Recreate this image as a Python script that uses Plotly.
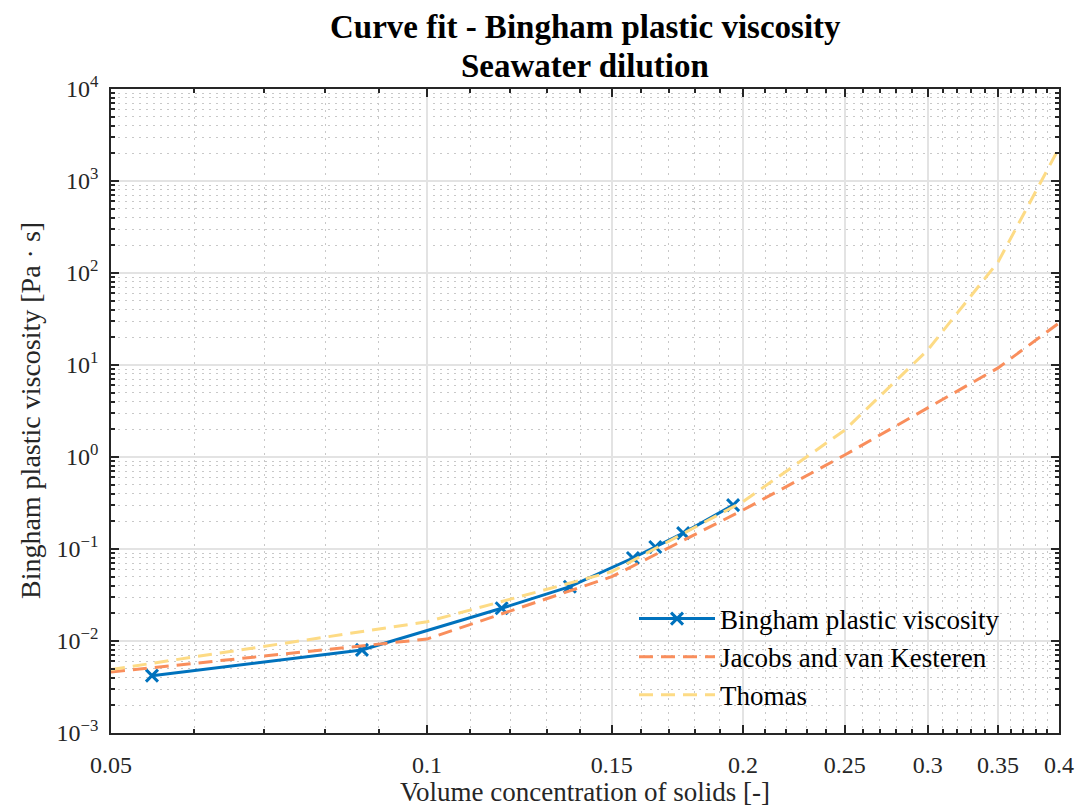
import plotly.graph_objects as go

# Measured Bingham plastic viscosity
conc_meas = [0.0547, 0.0867, 0.1178, 0.1368, 0.1571, 0.165, 0.1754, 0.1957]
visc_meas = [0.0042, 0.0080, 0.0227, 0.0389, 0.0798, 0.105, 0.149, 0.30]

# Model curves evaluated on a coarse concentration grid
conc_model = [0.05, 0.10, 0.15, 0.20, 0.25, 0.30, 0.35, 0.40]
visc_jacobs = [0.0046, 0.0105, 0.050, 0.265, 1.05, 3.4, 9.3, 28.6]
visc_thomas = [0.0049, 0.0162, 0.0567, 0.327, 1.96, 14.6, 132, 2285]

x_ticks = [0.05, 0.1, 0.15, 0.2, 0.25, 0.3, 0.35, 0.4]
x_ticklabels = ["0.05", "0.1", "0.15", "0.2", "0.25", "0.3", "0.35", "0.4"]
y_exponents = [-3, -2, -1, 0, 1, 2, 3, 4]

title_lines = ["Curve fit - Bingham plastic viscosity", "Seawater dilution"]
x_label = "Volume concentration of solids [-]"
y_label = "Bingham plastic viscosity [Pa \u00b7 s]"

BLUE = "#0072BD"
ORANGE = "#F98E5C"
YELLOW = "#FDDB85"
INK = "#262626"
FONT = "Liberation Serif"

x_minor = [round(v / 100, 2) for v in range(6, 40) if round(v / 100, 2) not in x_ticks]
y_minor = [m * 10.0 ** e for e in y_exponents[:-1] for m in range(2, 10)]

fig = go.Figure()
fig.add_trace(go.Scatter(
    x=conc_meas, y=visc_meas, mode="lines+markers",
    name="Bingham plastic viscosity",
    line=dict(color=BLUE, width=3),
    marker=dict(symbol="x-thin-open", size=12, color=BLUE,
                line=dict(color=BLUE, width=3)),
))
fig.add_trace(go.Scatter(
    x=conc_model, y=visc_jacobs, mode="lines",
    name="Jacobs and van Kesteren",
    line=dict(color=ORANGE, width=3, dash="14px,8px"),
))
fig.add_trace(go.Scatter(
    x=conc_model, y=visc_thomas, mode="lines",
    name="Thomas",
    line=dict(color=YELLOW, width=3, dash="14px,8px"),
))

axis_common = dict(
    showline=True, linecolor=INK, linewidth=1.5, mirror="ticks",
    ticks="inside", ticklen=8, tickcolor=INK, tickwidth=1.5,
    showgrid=True, gridcolor="#e3e3e3", gridwidth=1.5,
    zeroline=False, automargin=False,
    tickfont=dict(family=FONT, size=24, color=INK),
)
minor_common = dict(tickmode="array", ticks="inside", ticklen=4, tickcolor=INK,
                    showgrid=True, gridcolor="#c8c8c8", griddash="2px,5px",
                    gridwidth=1)

fig.update_xaxes(
    type="log", range=[-1.30103, -0.39794],
    tickmode="array", tickvals=x_ticks, ticktext=x_ticklabels,
    ticklabelstandoff=9,
    minor=dict(tickvals=x_minor, **minor_common),
    **axis_common,
)
fig.update_yaxes(
    type="log", range=[-3, 4],
    tickmode="array", tickvals=[10.0 ** e for e in y_exponents],
    ticktext=["10<sup>%s</sup>" % str(e).replace("-", "\u2212") for e in y_exponents],
    ticklabelstandoff=6,
    minor=dict(tickvals=y_minor, **minor_common),
    **axis_common,
)

# two-line bold title centred over the plotting area
for text, ypos in zip(title_lines, [1.0963, 1.0357]):
    fig.add_annotation(
        text="<b>%s</b>" % text, xref="paper", yref="paper",
        x=0.5, y=ypos, xanchor="center", yanchor="middle", showarrow=False,
        font=dict(family=FONT, size=33, color="black"),
    )

# axis labels
fig.add_annotation(
    text=x_label, xref="paper", yref="paper", x=0.5, y=-0.0916,
    xanchor="center", yanchor="middle", showarrow=False,
    font=dict(family=FONT, size=27, color=INK),
)
fig.add_annotation(
    text=y_label, xref="paper", yref="paper", x=-0.0854, y=0.5,
    xanchor="center", yanchor="middle", showarrow=False, textangle=-90,
    font=dict(family=FONT, size=28, color=INK),
)

fig.update_layout(
    width=1078, height=807,
    margin=dict(l=111, r=19, t=89, b=74, autoexpand=False),
    paper_bgcolor="white", plot_bgcolor="white",
    legend=dict(
        x=0.5517, y=0.215, xanchor="left", yanchor="top",
        bgcolor="rgba(0,0,0,0)", borderwidth=0,
        font=dict(family=FONT, size=27, color="black"),
        itemwidth=76, tracegroupgap=0,
    ),
    showlegend=True,
)

fig.write_html("out.html")
